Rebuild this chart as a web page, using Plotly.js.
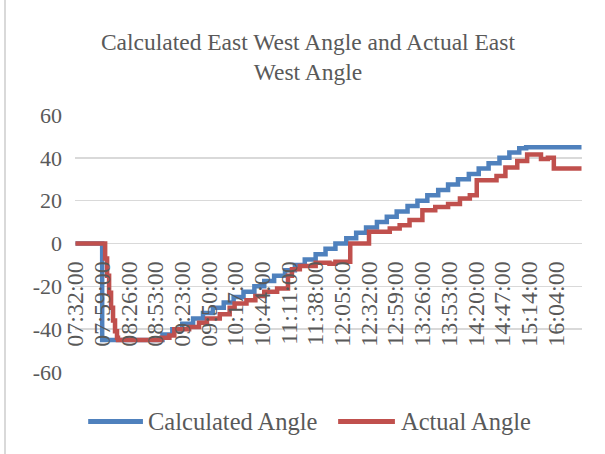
<!DOCTYPE html>
<html>
<head>
<meta charset="utf-8">
<script src="https://cdn.plot.ly/plotly-3.0.1.min.js"></script>
<style>
  html, body { margin: 0; padding: 0; background: #fff; }
  #wrap { position: relative; width: 605px; height: 454px; }
  #chart { width: 605px; height: 454px; }
  #edge { position: absolute; left: 4px; top: 0; width: 2px; height: 454px; background: #d9d9d9; }
</style>
</head>
<body>
<div id="wrap"><div id="chart"></div><div id="edge"></div></div>
<script>
// Category (time) tick labels and their sample positions
const timeLabels = ["07:32:00","07:59:00","08:26:00","08:53:00","09:23:00","09:50:00","10:17:00","10:44:00","11:11:00","11:38:00","12:05:00","12:32:00","12:59:00","13:26:00","13:53:00","14:20:00","14:47:00","15:14:00","16:04:00"];
const labelIndex = [0,27,54,81,108,135,162,189,216,243,270,297,324,351,378,405,432,459,486];
const sampleCount = 513;

// Series names and colours
const seriesNames = ["Calculated Angle", "Actual Angle"];
const seriesColors = ["#4F81BD", "#C0504D"];

// Calculated Angle: sample index where value changes, and the value
const calcIdx = [0,27,88,98,108,119,129,139,150,160,170,181,191,201,212,222,232,243,253,263,274,284,294,305,315,325,336,346,356,367,377,387,398,408,418,429,439,449,456,512];
const calcVal = [0,-45,-42.5,-40,-37.5,-35,-32.5,-30,-27.5,-25,-22.5,-20,-17.5,-15,-12.5,-10,-7.5,-5,-2.5,0,2.5,5,7.5,10,12.5,15,17.5,20,22.5,25,27.5,30,32.5,35,37.5,40,42.5,44.5,45,45];

// Actual Angle
const actIdx = [0,28,30,32,34,36,38,40,42,43,87,95,100,115,125,133,146,156,161,173,182,191,204,215,219,227,243,257,263,278,297,318,328,338,351,364,377,389,399,406,426,435,447,457,471,478,484,512];
const actVal = [0,0,-7,-15,-23,-30,-36,-41,-44,-45,-44,-43,-40,-39,-37,-35,-33,-30,-28,-26.5,-24.5,-22.5,-21,-15,-12,-10.5,-9,-9.5,-8.5,0,5.5,7,8.5,11,15.5,17,18.5,21,22.5,29.5,31.5,35.5,38.5,41.5,39.5,40,35,35];

// Y axis ticks
const yTickVals = [-60,-40,-20,0,20,40,60];
const yTickText = ["-60","-40","-20","0","20","40","60"];

const FONT = "'Liberation Serif', 'Times New Roman', serif";
const GREY = "#595959";

const traces = [
  { x: calcIdx, y: calcVal, name: seriesNames[0], type: "scatter", mode: "lines",
    line: { color: seriesColors[0], width: 4.5, shape: "hv" }, showlegend: false },
  { x: actIdx, y: actVal, name: seriesNames[1], type: "scatter", mode: "lines",
    line: { color: seriesColors[1], width: 4.5, shape: "hv" }, showlegend: false }
];

// Manual legend (swatch lines + labels) placed below the plot area
const legendY = -0.193;
const swatchX = [[0.026, 0.134], [0.519, 0.631]];
const labelX = [0.141, 0.639];
const shapes = seriesNames.map((n, i) => ({
  type: "line", xref: "paper", yref: "paper",
  x0: swatchX[i][0], x1: swatchX[i][1], y0: legendY, y1: legendY,
  line: { color: seriesColors[i], width: 5 }
}));
const annotations = seriesNames.map((n, i) => ({
  text: n, xref: "paper", yref: "paper", x: labelX[i], y: legendY,
  xanchor: "left", yanchor: "middle", showarrow: false,
  font: { family: FONT, size: 24.5, color: GREY }
}));

const layout = {
  width: 605, height: 454,
  paper_bgcolor: "#fff", plot_bgcolor: "#fff",
  margin: { l: 75, r: 23, t: 115, b: 82 },
  font: { family: FONT, color: GREY },
  title: { text: "Calculated East West Angle and Actual East<br>West Angle",
           font: { family: FONT, size: 23.5, color: GREY },
           x: 0.509, xref: "container", xanchor: "center",
           y: 0.89, yref: "container", yanchor: "top" },
  xaxis: { range: [-0.5, sampleCount - 0.5], tickmode: "array", tickvals: labelIndex, ticktext: timeLabels,
           tickangle: -90, tickfont: { family: FONT, size: 24, color: GREY },
           showgrid: false, zeroline: false, showline: false, ticks: "",
           anchor: "free", position: 0.5, automargin: false, ticklabelstandoff: 12 },
  yaxis: { range: [-60, 60], tickmode: "array", tickvals: yTickVals, ticktext: yTickText,
           tickfont: { family: FONT, size: 22, color: GREY },
           showgrid: true, gridcolor: "#d9d9d9", gridwidth: 1.5, zeroline: false, showline: false,
           ticks: "", automargin: false, ticklabelstandoff: 12 },
  showlegend: false,
  shapes: shapes,
  annotations: annotations
};

Plotly.newPlot("chart", traces, layout, { displayModeBar: false, staticPlot: true });
</script>
</body>
</html>
